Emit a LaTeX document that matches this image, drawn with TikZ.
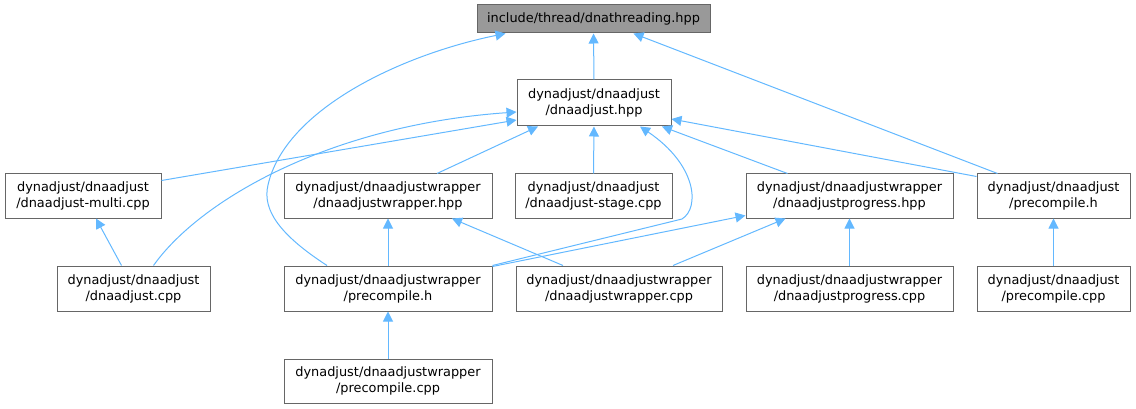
\documentclass[tikz,border=0pt]{standalone}
\usepackage{fontspec}
\setmainfont{DejaVu Sans}
\usetikzlibrary{arrows.meta}
\definecolor{edgec}{HTML}{63B8FF}
\definecolor{bord}{HTML}{666666}
\definecolor{topfill}{HTML}{999999}
\tikzset{
  box/.style={draw=bord, line width=1pt, fill=white, align=center, inner sep=0pt,
    minimum height=45pt, font=\fontsize{12.9}{16}\selectfont},
  topbox/.style={box, fill=topfill, minimum height=28pt},
  edge/.style={draw=edgec, line width=1pt, -{Triangle[length=10pt,width=10pt]}},
}
\begin{document}
\begin{tikzpicture}[x=1pt,y=-1pt]
\useasboundingbox (0,0) rectangle (1136,409);
% nodes
\node[topbox, minimum width=233pt] (top) at (593.5,19) {include/thread/dnathreading.hpp};
\node[box, minimum width=154pt, minimum height=46pt] (hpp) at (594,103) {dynadjust/dnaadjust\\/dnaadjust.hpp};
\node[box, minimum width=156pt, minimum height=44pt] (multi) at (83,196) {dynadjust/dnaadjust\\/dnaadjust-multi.cpp};
\node[box, minimum width=208pt, minimum height=44pt] (whpp) at (388,196) {dynadjust/dnaadjustwrapper\\/dnaadjustwrapper.hpp};
\node[box, minimum width=157pt, minimum height=44pt] (stage) at (593.5,196) {dynadjust/dnaadjust\\/dnaadjust-stage.cpp};
\node[box, minimum width=207pt, minimum height=44pt] (phpp) at (849.5,196) {dynadjust/dnaadjustwrapper\\/dnaadjustprogress.hpp};
\node[box, minimum width=153pt, minimum height=44pt] (dph) at (1053.5,196) {dynadjust/dnaadjust\\/precompile.h};
\node[box, minimum width=153pt] (dcpp) at (133.5,288.5) {dynadjust/dnaadjust\\/dnaadjust.cpp};
\node[box, minimum width=208pt] (wph) at (388,288.5) {dynadjust/dnaadjustwrapper\\/precompile.h};
\node[box, minimum width=206pt] (wcpp) at (619,288.5) {dynadjust/dnaadjustwrapper\\/dnaadjustwrapper.cpp};
\node[box, minimum width=207pt] (pcpp) at (849.5,288.5) {dynadjust/dnaadjustwrapper\\/dnaadjustprogress.cpp};
\node[box, minimum width=153pt] (dpcpp) at (1053.5,288.5) {dynadjust/dnaadjust\\/precompile.cpp};
\node[box, minimum width=208pt, minimum height=44pt] (wpcpp) at (388,381) {dynadjust/dnaadjustwrapper\\/precompile.cpp};
% edges
\draw[edge] (hpp.north) -- (top.south);
\draw[edge] ([xshift=-61pt]wph.north) .. controls (280,235) and (262,210) .. (268,185)
  .. controls (285,110) and (400,55) .. ([xshift=-88pt]top.south);
\draw[edge] ([xshift=-56pt]dph.north) -- ([xshift=40pt]top.south);
\draw[edge] ([yshift=-7pt]multi.north east) -- ([yshift=-17pt]hpp.west);
\draw[edge] ([xshift=20pt]dcpp.north) .. controls (200,200) and (330,125) .. ([yshift=-9pt]hpp.west);
\draw[edge] ([xshift=49pt]whpp.north) -- ([xshift=-56pt]hpp.south);
\draw[edge] (stage.north) -- (hpp.south);
\coordinate (bend) at (682,219);
\draw[edge] (wph.north east) -- (bend) .. controls (700,208) and (697,165) .. ([xshift=46pt]hpp.south);
\draw[edge] ([xshift=-62pt]phpp.north) -- ([xshift=68pt]hpp.south);
\draw[edge] ([yshift=-3pt]dph.north west) -- ([yshift=-16pt]hpp.east);
\draw[edge] ([xshift=-56pt]wcpp.north) -- ([xshift=64pt]whpp.south);
\draw[edge] (wph.north) -- (whpp.south);
\draw[edge] ([yshift=-1pt]wph.north east) -- ([yshift=3pt]phpp.south west);
\draw[edge] ([xshift=54pt]wcpp.north) -- ([xshift=-64pt]phpp.south);
\draw[edge] (pcpp.north) -- (phpp.south);
\draw[edge] (dpcpp.north) -- (dph.south);
\draw[edge] ([xshift=-12pt]dcpp.north) -- ([xshift=13pt]multi.south);
\draw[edge] (wpcpp.north) -- (wph.south);
\end{tikzpicture}
\end{document}
